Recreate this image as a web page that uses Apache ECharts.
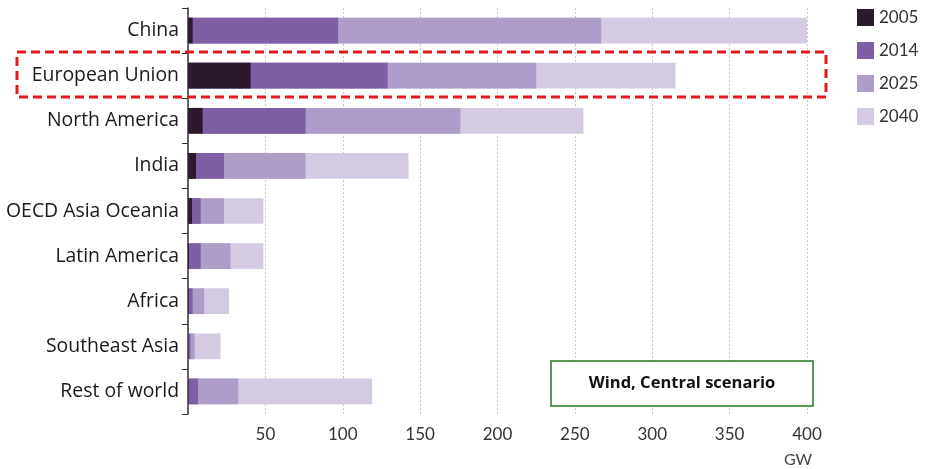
<!DOCTYPE html>
<html><head><meta charset="utf-8">
<script src="https://cdn.jsdelivr.net/npm/echarts@6/dist/echarts.min.js"></script>
<style>html,body{margin:0;padding:0;background:#fff}#c{width:946px;height:469px}</style>
</head><body><div id="c"></div>
<script>
const categories = ['China','European Union','North America','India','OECD Asia Oceania','Latin America','Africa','Southeast Asia','Rest of world'];
const years = ['2005','2014','2025','2040'];
// cumulative installed capacity (GW) in each year
const v2005 = [3, 40.5, 9.5, 5.2, 2.6, 0.6, 0.5, 0.3, 0.4];
const v2014 = [97, 129, 76, 23.3, 8.2, 8.2, 3, 1.5, 6.5];
const v2025 = [267, 225, 176, 76, 23.3, 27.4, 10.5, 4.3, 32.5];
const v2040 = [400, 315, 255.5, 142.5, 48.7, 48.7, 26.5, 21, 119];
const xTicks = [50,100,150,200,250,300,350,400];
const colors = {'2005':'#2b1a2d','2014':'#7e5fa6','2025':'#ae9dc8','2040':'#d4cbe3'};

const font = 'Lato, "Open Sans", sans-serif';
const catFont = '"Open Sans", sans-serif';
const chart = echarts.init(document.getElementById('c'));
const seriesData = {'2005':v2005,'2014':v2014,'2025':v2025,'2040':v2040};
const drawOrder = ['2040','2025','2014','2005'];
chart.setOption({
  animation:false,
  grid:{left:188,right:139,top:8,bottom:55,containLabel:false,outerBoundsMode:'none'},
  legend:{
    orient:'vertical', left:852, top:4, itemWidth:17, itemHeight:17, itemGap:16,
    data:years, icon:'rect',
    textStyle:{fontFamily:font,fontSize:17,color:'#333'}
  },
  xAxis:{
    type:'value', min:0, max:400, interval:50,
    axisLine:{show:false}, axisTick:{show:false},
    splitLine:{show:true,lineStyle:{color:'#c8c8c8',type:[2,2],width:1}},
    axisLabel:{
      showMinLabel:false, fontFamily:font, fontSize:17, color:'#333', margin:8,
      lineHeight:25,
      formatter:function(v){return v===400?'400\n{g|GW}':(xTicks.indexOf(v)>=0?String(v):'');},
      rich:{g:{fontFamily:font,fontSize:16,color:'#444',padding:[0,18,0,0]}}
    }
  },
  yAxis:{
    type:'category', inverse:true, data:categories,
    axisLine:{show:true,lineStyle:{color:'#333',width:1.5}},
    axisTick:{show:true,length:6,lineStyle:{color:'#333'}},
    axisLabel:{fontFamily:catFont,fontSize:19.4,color:'#1a1a1a',margin:9}
  },
  series: drawOrder.map(function(y){
    return {
      name:y, type:'bar', data:seriesData[y], barWidth:'57%', barGap:'-100%',
      itemStyle:{color:colors[y]}, silent:true
    };
  }),
  graphic:[
    {type:'rect', shape:{x:17,y:52,width:809,height:45},
     style:{fill:'none',stroke:'#e41a1a',lineWidth:3,lineDash:[9,5]}, z:100},
    {type:'rect', shape:{x:551,y:361,width:262,height:45},
     style:{fill:'#fff',stroke:'#1f7a1f',lineWidth:1.5}, z:100},
    {type:'text', x:682, y:383, z:101,
     style:{text:'Wind, Central scenario',fontFamily:'"Open Sans", sans-serif',fontWeight:'bold',fontSize:16.5,fill:'#111',align:'center',verticalAlign:'middle'}}
  ]
});
</script></body></html>
